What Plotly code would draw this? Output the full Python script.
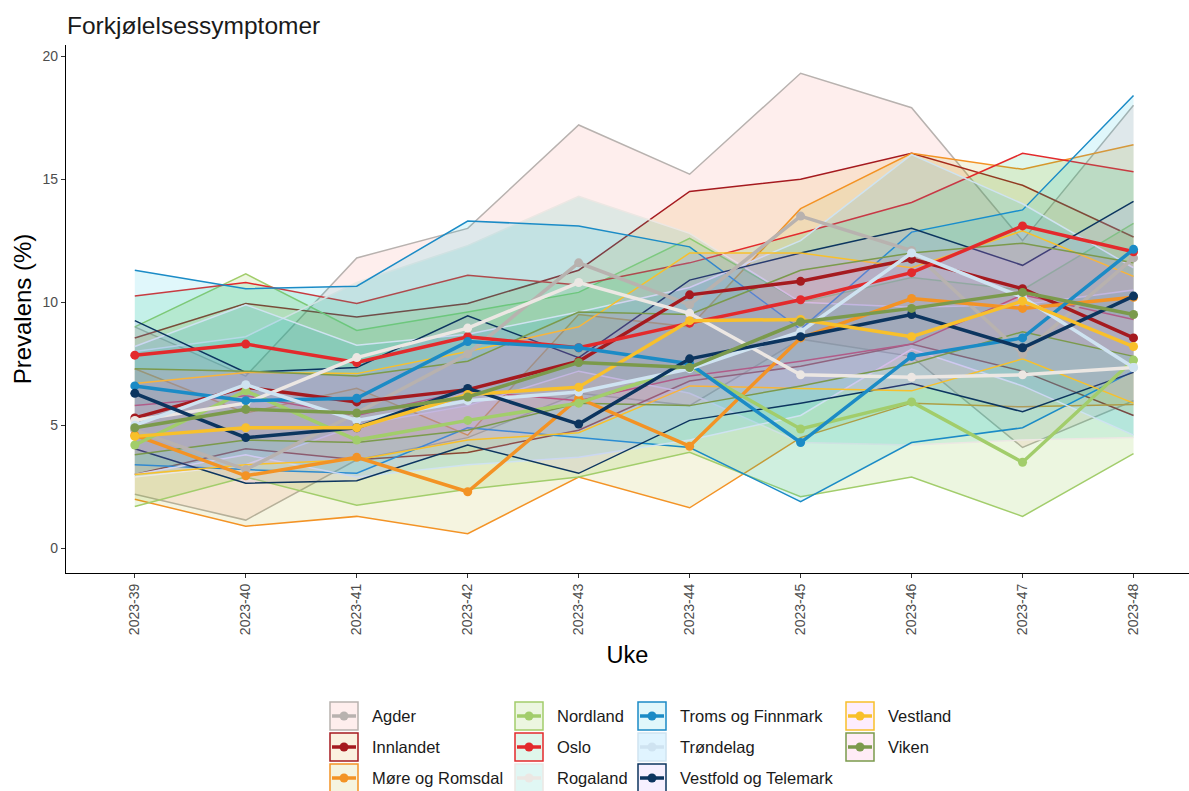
import plotly.graph_objects as go

weeks = ["2023-39", "2023-40", "2023-41", "2023-42", "2023-43",
         "2023-44", "2023-45", "2023-46", "2023-47", "2023-48"]

regions = ["Agder", "Innlandet", "Møre og Romsdal", "Nordland", "Oslo", "Rogaland",
           "Troms og Finnmark", "Trøndelag", "Vestfold og Telemark", "Vestland", "Viken"]

line_colors = ["#b8b2af", "#a51a1f", "#f39325", "#a2cd6b", "#e32a2c", "#ece7e3",
               "#1b8bc6", "#cfe3f1", "#0c355f", "#f8c02b", "#7b9a4c"]

fill_colors = ["rgba(248,118,109,0.12)", "rgba(219,142,0,0.12)", "rgba(174,162,0,0.12)",
               "rgba(100,178,0,0.12)", "rgba(0,189,92,0.12)", "rgba(0,193,167,0.12)",
               "rgba(0,186,222,0.12)", "rgba(0,166,255,0.12)", "rgba(179,133,255,0.12)",
               "rgba(239,103,235,0.12)", "rgba(255,99,182,0.12)"]

est = {
    "Agder":                [4.8, 3.2, 5.5, 7.9, 11.6, 9.9, 13.5, 12.1, 7.9, 11.8],
    "Innlandet":            [5.3, 6.55, 5.95, 6.45, 7.6, 10.3, 10.85, 11.75, 10.55, 8.55],
    "Møre og Romsdal":      [4.6, 2.95, 3.7, 2.3, 6.1, 4.15, 8.55, 10.15, 9.75, 10.2],
    "Nordland":             [4.2, 6.4, 4.4, 5.2, 5.9, 7.4, 4.85, 5.95, 3.5, 7.65],
    "Oslo":                 [7.85, 8.3, 7.55, 8.6, 8.15, 9.15, 10.1, 11.2, 13.1, 12.05],
    "Rogaland":             [5.2, 5.9, 7.75, 8.95, 10.8, 9.55, 7.05, 6.95, 7.05, 7.35],
    "Troms og Finnmark":    [6.6, 6.0, 6.1, 8.4, 8.15, 7.5, 4.3, 7.8, 8.55, 12.15],
    "Trøndelag":            [5.0, 6.65, 5.2, 6.0, 6.35, 7.3, 8.8, 12.0, 10.2, 7.35],
    "Vestfold og Telemark": [6.3, 4.5, 4.9, 6.5, 5.05, 7.7, 8.6, 9.5, 8.15, 10.25],
    "Vestland":             [4.55, 4.9, 4.9, 6.25, 6.55, 9.25, 9.3, 8.6, 10.05, 8.2],
    "Viken":                [4.9, 5.65, 5.5, 6.15, 7.55, 7.35, 9.2, 9.75, 10.4, 9.5],
}

lower = {
    "Agder":                [2.2, 1.15, 3.6, 4.5, 6.3, 5.8, 8.5, 7.8, 4.1, 6.0],
    "Innlandet":            [3.0, 4.05, 3.6, 3.9, 4.8, 6.8, 7.4, 8.3, 7.2, 5.4],
    "Møre og Romsdal":      [2.0, 0.9, 1.3, 0.6, 2.9, 1.65, 4.5, 5.9, 5.75, 5.85],
    "Nordland":             [1.7, 2.9, 1.75, 2.4, 2.9, 3.9, 2.1, 2.9, 1.3, 3.85],
    "Oslo":                 [5.8, 6.2, 5.4, 6.4, 6.0, 7.0, 7.6, 8.3, 10.3, 9.3],
    "Rogaland":             [2.9, 3.4, 5.0, 5.8, 7.2, 6.3, 4.3, 4.2, 4.4, 4.5],
    "Troms og Finnmark":    [3.4, 3.2, 3.05, 4.9, 4.5, 4.1, 1.9, 4.3, 4.9, 7.2],
    "Trøndelag":            [3.0, 3.8, 2.9, 3.4, 3.7, 4.4, 5.4, 8.1, 6.6, 4.6],
    "Vestfold og Telemark": [4.05, 2.65, 2.75, 4.2, 3.05, 5.2, 5.9, 6.7, 5.55, 7.15],
    "Vestland":             [3.0, 3.4, 3.6, 4.4, 4.7, 6.6, 6.5, 6.4, 7.7, 5.9],
    "Viken":                [3.8, 4.4, 4.3, 4.8, 5.9, 5.8, 6.6, 7.5, 8.8, 7.8],
}

upper = {
    "Agder":                [9.0, 7.0, 11.8, 13.0, 17.2, 15.2, 19.3, 17.9, 12.5, 18.0],
    "Innlandet":            [8.55, 9.95, 9.4, 9.95, 11.3, 14.5, 15.0, 16.05, 14.75, 12.65],
    "Møre og Romsdal":      [7.3, 5.5, 6.5, 4.6, 9.5, 9.0, 13.8, 16.05, 15.4, 16.4],
    "Nordland":             [9.0, 11.15, 8.85, 9.6, 10.4, 12.6, 10.0, 11.0, 10.5, 13.2],
    "Oslo":                 [10.25, 10.8, 9.95, 11.1, 10.7, 11.6, 12.8, 14.05, 16.05, 15.3],
    "Rogaland":             [8.0, 8.6, 10.8, 12.3, 14.3, 12.8, 10.0, 9.8, 9.9, 10.5],
    "Troms og Finnmark":    [11.3, 10.55, 10.65, 13.3, 13.1, 12.25, 8.9, 12.85, 13.75, 18.4],
    "Trøndelag":            [8.2, 9.9, 8.25, 8.7, 9.6, 10.6, 12.5, 16.0, 14.0, 11.4],
    "Vestfold og Telemark": [9.25, 7.15, 7.35, 9.45, 7.75, 10.9, 12.0, 13.0, 11.5, 14.1],
    "Vestland":             [6.7, 7.15, 7.1, 8.0, 9.0, 12.0, 12.0, 11.4, 12.9, 11.05],
    "Viken":                [7.3, 7.2, 7.0, 7.6, 9.6, 9.5, 11.3, 12.0, 12.4, 11.6],
}

yticks = [0, 5, 10, 15, 20]

W, H = 1189, 791
ML, MR, MT, MB = 66, 0, 45, 218

fig = go.Figure()

# Ribbons (confidence bands) with coloured outlines
for r, lc, fc in zip(regions, line_colors, fill_colors):
    fig.add_trace(go.Scatter(x=weeks, y=lower[r], mode="lines",
                             line=dict(color=lc, width=1.5), showlegend=False,
                             hoverinfo="skip"))
    fig.add_trace(go.Scatter(x=weeks, y=upper[r], mode="lines", fill="tonexty",
                             fillcolor=fc, line=dict(color=lc, width=1.5),
                             showlegend=False, hoverinfo="skip"))

# Estimates
for r, lc in zip(regions, line_colors):
    fig.add_trace(go.Scatter(x=weeks, y=est[r], mode="lines+markers", name=r,
                             line=dict(color=lc, width=3.5),
                             marker=dict(color=lc, size=9), showlegend=False))

# Manual legend (ggplot-like keys)
def px2x(px):
    return (px - ML) / (W - ML - MR)

def py2y(py):
    return (H - MB - py) / (H - MB - MT)

col_box_x = [330, 515, 638, 846]
col_txt_x = [370, 555, 678, 886]
row_y = [716, 747, 778]
legend_layout = [[0, 1, 2], [3, 4, 5], [6, 7, 8], [9, 10]]

shapes = []
annotations = []
for ci, idxs in enumerate(legend_layout):
    for ri, idx in enumerate(idxs):
        bx = col_box_x[ci]
        cy = row_y[ri]
        lc = line_colors[idx]
        fc = fill_colors[idx]
        shapes.append(dict(type="rect", xref="paper", yref="paper",
                           x0=px2x(bx), x1=px2x(bx + 28), y0=py2y(cy + 14), y1=py2y(cy - 14),
                           fillcolor=fc, line=dict(color=lc, width=1.5)))
        shapes.append(dict(type="line", xref="paper", yref="paper",
                           x0=px2x(bx + 2), x1=px2x(bx + 26), y0=py2y(cy), y1=py2y(cy),
                           line=dict(color=lc, width=3.5)))
        shapes.append(dict(type="circle", xref="paper", yref="paper",
                           x0=px2x(bx + 14 - 4.5), x1=px2x(bx + 14 + 4.5),
                           y0=py2y(cy + 4.5), y1=py2y(cy - 4.5),
                           fillcolor=lc, line=dict(color=lc, width=0)))
        annotations.append(dict(text=regions[idx], xref="paper", yref="paper",
                                x=px2x(col_txt_x[ci]), y=py2y(cy), xanchor="left",
                                yanchor="middle", showarrow=False,
                                font=dict(size=16.5, color="#1a1a1a")))

fig.update_layout(
    width=W, height=H,
    margin=dict(l=ML, r=MR, t=MT, b=MB, autoexpand=False),
    paper_bgcolor="white", plot_bgcolor="white",
    font=dict(family="Liberation Sans, Arial, sans-serif", color="#1a1a1a"),
    title=dict(text="Forkjølelsessymptomer", x=67 / W, xref="container", xanchor="left",
               y=1 - 25 / H, yref="container", yanchor="middle",
               font=dict(size=24.5, color="#1a1a1a")),
    shapes=shapes, annotations=annotations,
    showlegend=False,
)

fig.update_xaxes(type="category", categoryorder="array", categoryarray=weeks,
                 range=[-0.62, 9.5], showline=True, linecolor="black", linewidth=1.3,
                 ticks="outside", ticklen=4, tickcolor="#333333", tickwidth=1,
                 tickangle=-90, tickfont=dict(size=14, color="#4d4d4d"),
                 showgrid=False, zeroline=False,
                 title=dict(text="Uke", font=dict(size=23.5, color="black"), standoff=12))

fig.update_yaxes(range=[-1.0, 20.45], tickvals=yticks, showline=True, linecolor="black",
                 linewidth=1.3, ticks="outside", ticklen=4, tickcolor="#333333",
                 tickfont=dict(size=14, color="#4d4d4d"), showgrid=False, zeroline=False,
                 title=dict(text="Prevalens (%)", font=dict(size=24, color="black"),
                            standoff=4))

fig.write_html("out.html", config={"displayModeBar": False},
               post_script="document.body.style.margin='0';")
